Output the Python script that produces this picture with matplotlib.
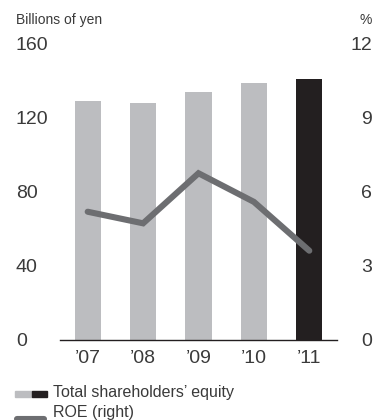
import matplotlib
matplotlib.use("Agg")
import matplotlib.pyplot as plt
from matplotlib.patches import Rectangle
from matplotlib.lines import Line2D

plt.rcParams['font.family'] = ['Liberation Sans', 'DejaVu Sans']

years = ["\u201907", "\u201908", "\u201909", "\u201910", "\u201911"]
equity = [129.4, 128.3, 134.2, 139.1, 141.2]
roe = [5.2, 4.73, 6.76, 5.6, 3.62]
left_ticks = [0, 40, 80, 120, 160]
right_ticks = [0, 3, 6, 9, 12]

GRAY = "#bcbdc0"
DARK = "#231f20"
LINE = "#6d6e71"
TEXT = "#3a3a3a"

fig = plt.figure(figsize=(3.75, 4.2), dpi=100)
ax = fig.add_axes([60/375, 80/420, 277/375, 296/420])
x = list(range(len(years)))
colors = [GRAY]*(len(years)-1) + [DARK]
ax.bar(x, equity, width=0.47, color=colors, zorder=2)
ax.set_xlim(-0.5, 4.5)
ax.set_ylim(0, 160)
ax.set_yticks(left_ticks)
ax.set_yticklabels([str(v) for v in left_ticks])
ax.tick_params(axis='y', length=0, pad=31.7, labelsize=14, labelcolor=TEXT)
for lab in ax.get_yticklabels():
    lab.set_horizontalalignment('left')
ax.set_xticks(x)
ax.set_xticklabels(years)
ax.tick_params(axis='x', length=0, pad=7, labelsize=14, labelcolor=TEXT)
for s in ['top', 'left', 'right']:
    ax.spines[s].set_visible(False)
ax.spines['bottom'].set_color(DARK)
ax.spines['bottom'].set_linewidth(1.0)
ax.spines['bottom'].set_zorder(5)

ax2 = ax.twinx()
ax2.plot(x, roe, color=LINE, lw=4.4, solid_capstyle='round', solid_joinstyle='miter', zorder=3)
ax2.set_ylim(0, 12)
ax2.set_yticks(right_ticks)
ax2.set_yticklabels([str(v) for v in right_ticks])
ax2.tick_params(axis='y', length=0, pad=25.2, labelsize=14, labelcolor=TEXT)
for lab in ax2.get_yticklabels():
    lab.set_horizontalalignment('right')
for s in ax2.spines.values():
    s.set_visible(False)

fig.text(16/375, 1 - 20/420, "Billions of yen", fontsize=10, color=TEXT, ha='left', va='center')
fig.text(372/375, 1 - 20/420, "%", fontsize=10, color=TEXT, ha='right', va='center')

# legend
fig.patches.append(Rectangle((15/375, 1 - 397/420), 17/375, 6/420, transform=fig.transFigure, color=GRAY))
fig.patches.append(Rectangle((32/375, 1 - 397/420), 15/375, 6/420, transform=fig.transFigure, color=DARK))
fig.text(53/375, 1 - 392/420, "Total shareholders\u2019 equity", fontsize=11.5, color=TEXT, ha='left', va='center')
fig.lines.append(Line2D([17/375, 44/375], [1 - 418.5/420, 1 - 418.5/420], transform=fig.transFigure,
                        color=LINE, lw=4.4, solid_capstyle='round'))
fig.text(53/375, 1 - 413/420, "ROE (right)", fontsize=11.5, color=TEXT, ha='left', va='center')

fig.savefig("out.png", dpi=100)
